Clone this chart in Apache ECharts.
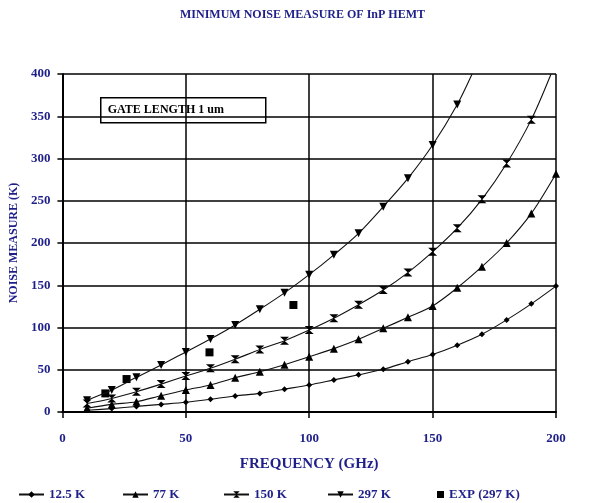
<!DOCTYPE html>
<html>
<head>
<meta charset="utf-8">
<script src="https://cdn.jsdelivr.net/npm/echarts@6/dist/echarts.min.js"></script>
<style>html,body{margin:0;padding:0;background:#fff;}#c{width:605px;height:503px;}</style>
</head>
<body>
<div id="c"></div>
<script>
// ---- data ----
const freqs = [10,20,30,40,50,60,70,80,90,100,110,120,130,140,150,160,170,180,190,200];
const t12 = [2,4,6.6,9,11.5,15,19,22,27,32,38,44,50.5,59.5,68,79,92,109,128,149];
const t77 = [4.4,9,12.2,19.3,26,32,40.5,47.7,56,65.5,75,86,99,112,125.5,147,172,200,235,282];
const t150 = [10,16,24,33,42.6,51.7,62.4,74,84.4,97,111,127,144.4,165,189.5,217.5,251.7,294,346];
const t150End = [198, 400];   // where the fitted curve leaves the plot
const t297 = [14,26,41,55.6,71,86.4,103,121.5,141,162.5,186,211.5,243,276.5,316,364];
const t297End = [166, 400];   // where the fitted curve leaves the plot
const expX = [17.4,26,59.6,93.6];
const expY = [22,39,70.6,126.6];
const seriesNames = ['12.5 K','77 K','150 K','297 K','EXP (297 K)'];
const xTicks = [0,50,100,150,200];
const yTicks = [0,50,100,150,200,250,300,350,400];

const navy = '#1f1f8a';
const font = 'Liberation Serif';
function pairs(xs, ys){ return ys.map((v,i)=>[xs[i], v]); }
function withEnd(xs, ys, end){
  const d = pairs(xs, ys);
  d.push({value: end, symbol: 'none'});
  return d;
}
const hourglass = 'path://M0,0 L10,0 L5,5 L10,10 L0,10 L5,5 Z';
const lineStyle = {color:'#111', width:1.1};

const chart = echarts.init(document.getElementById('c'));
const legendPos = [13,117,218,322,432];
chart.setOption({
  animation:false,
  backgroundColor:'#fff',
  title:{text:'MINIMUM NOISE MEASURE OF InP HEMT', left:'center', top:4,
    textStyle:{fontFamily:font, fontWeight:'bold', fontSize:12, color:navy}},
  grid:{left:62, right:49, top:74, bottom:91},
  legend: seriesNames.map((n,i)=>({
    data:[n], left:legendPos[i], top:483,
    itemWidth: i===4 ? 7 : 25, itemHeight: i===4 ? 7 : 8,
    textStyle:{fontFamily:font, fontWeight:'bold', fontSize:13, color:navy},
    inactiveColor:'#999'
  })),
  xAxis:{type:'value', min:0, max:200, interval:50,
    name:'FREQUENCY (GHz)', nameLocation:'middle', nameGap:45,
    nameTextStyle:{fontFamily:font, fontWeight:'bold', fontSize:15, color:navy},
    axisLine:{lineStyle:{color:'#000', width:2}},
    axisTick:{length:6, lineStyle:{color:'#000', width:1.5}},
    axisLabel:{margin:20, fontFamily:font, fontWeight:'bold', fontSize:13, color:navy,
      formatter: v => xTicks.includes(v) ? String(v) : ''},
    splitLine:{show:true, lineStyle:{color:'#000', width:1.5}}},
  yAxis:{type:'value', min:0, max:400, interval:50,
    name:'NOISE MEASURE (K)', nameLocation:'middle', nameGap:34, nameRotate:90,
    nameTextStyle:{fontFamily:font, fontWeight:'bold', fontSize:12, color:navy},
    axisLine:{show:true, lineStyle:{color:'#000', width:2}},
    axisTick:{show:true, length:5, lineStyle:{color:'#000', width:1.5}},
    axisLabel:{margin:12, fontFamily:font, fontWeight:'bold', fontSize:13, color:navy,
      formatter: v => yTicks.includes(v) ? String(v) : ''},
    splitLine:{show:true, lineStyle:{color:'#000', width:1.5}}},
  graphic:[{
    type:'group', left:100, top:97, z:100,
    children:[
      {type:'rect', shape:{x:0,y:0,width:165,height:25}, style:{fill:'#fff', stroke:'#000', lineWidth:1.5}},
      {type:'text', x:7, y:12.5, style:{text:'GATE LENGTH 1 um', fill:'#000',
        font:'bold 12px "Liberation Serif"', textVerticalAlign:'middle', textBaseline:'middle'}}
    ]
  }],
  series:[
    {name:seriesNames[0], type:'line', smooth:0.3, data:pairs(freqs,t12),
      symbol:'diamond', symbolSize:6, itemStyle:{color:'#000'}, lineStyle:lineStyle},
    {name:seriesNames[1], type:'line', smooth:0.3, data:pairs(freqs,t77),
      symbol:'triangle', symbolSize:8, itemStyle:{color:'#000'}, lineStyle:lineStyle},
    {name:seriesNames[2], type:'line', smooth:0.3, data:withEnd(freqs,t150,t150End),
      symbol:hourglass, symbolSize:[9,8], itemStyle:{color:'#000'}, lineStyle:lineStyle},
    {name:seriesNames[3], type:'line', smooth:0.3, data:withEnd(freqs,t297,t297End),
      symbol:'triangle', symbolRotate:180, symbolSize:8, itemStyle:{color:'#000'}, lineStyle:lineStyle},
    {name:seriesNames[4], type:'scatter', data:pairs(expX,expY),
      symbol:'rect', symbolSize:8, itemStyle:{color:'#000', opacity:1}}
  ]
});
</script>
</body>
</html>
